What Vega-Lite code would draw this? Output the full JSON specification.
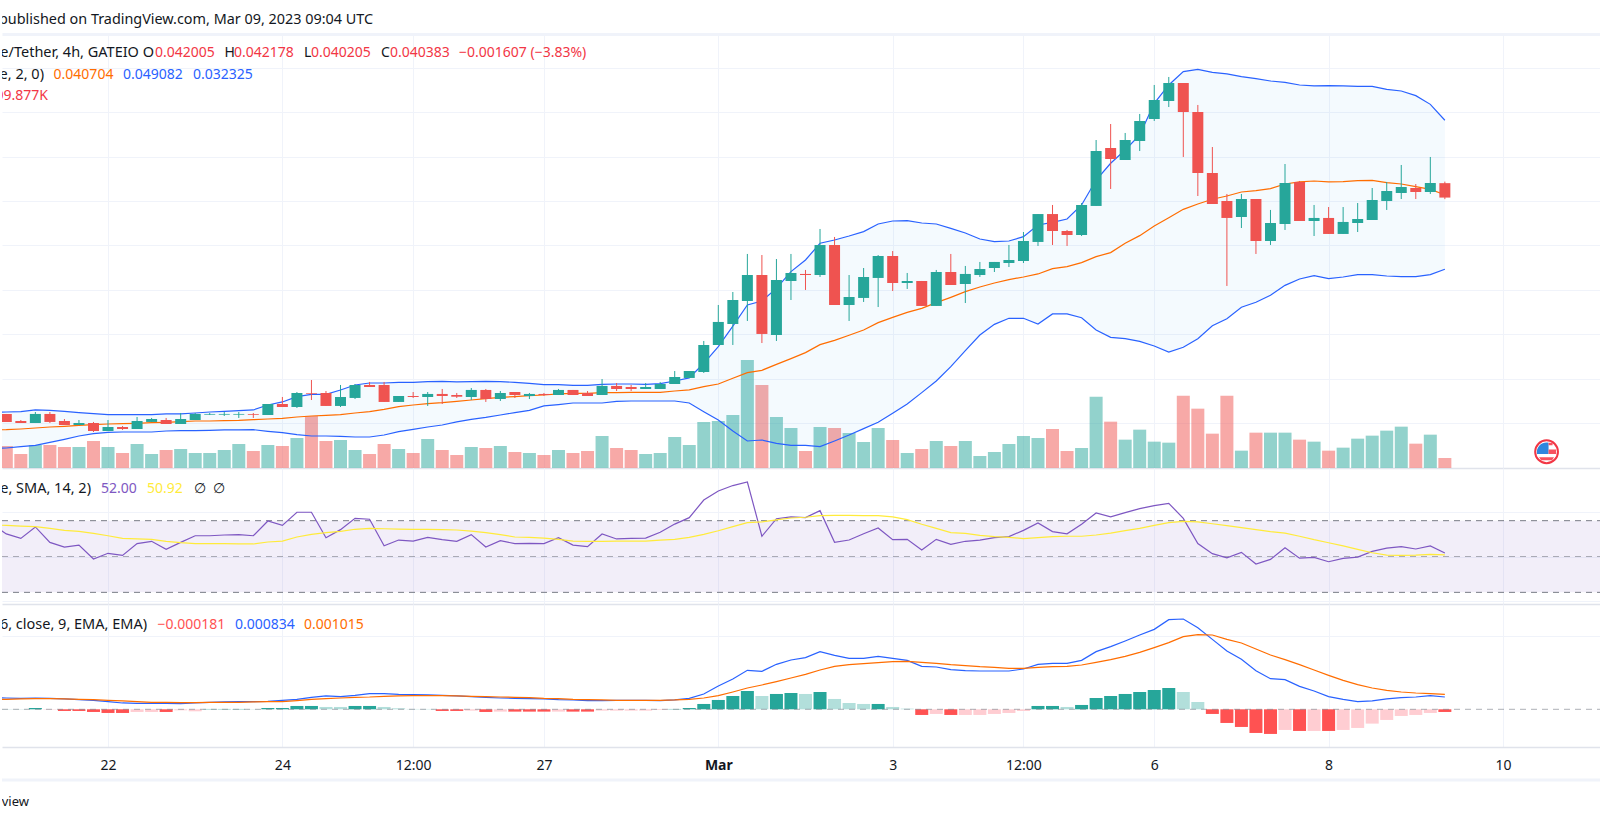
{
  "$schema": "https://vega.github.io/schema/vega-lite/v6.json",
  "description": "4h candles with Bollinger bands and volume, RSI and MACD panes, as published on TradingView",
  "padding": 0,
  "background": "white",
  "spacing": 0,
  "bounds": "flush",
  "config": {
    "view": {"stroke": null},
    "scale": {"continuousPadding": 0},
    "axis": {"title": null, "labels": false, "ticks": false, "domain": false, "gridColor": "#f0f3fa", "gridWidth": 1, "domainColor": "#e0e3eb", "domainWidth": 1.5},
    "text": {"font": "Noto Sans", "fontSize": 14, "baseline": "middle", "align": "left", "color": "#131722"}
  },
  "data": {"values": [
    {"t":"2023-02-20T16:00:00Z","open":0.0160,"high":0.0162,"low":0.0158,"close":0.0161,"vol":400,"bb_up":0.01620,"bb_mid":0.01424,"bb_low":0.01214,"rsi":68.0,"rsi_ma":67.6,"macd":0.000791,"signal":0.000678,"hist":0.000023,"hist_state":"up_fall"},
    {"t":"2023-02-20T20:00:00Z","open":0.01604,"high":0.01604,"low":0.01514,"close":0.01514,"vol":462,"bb_up":0.01626,"bb_mid":0.01427,"bb_low":0.01221,"rsi":62.6,"rsi_ma":67.4,"macd":0.000768,"signal":0.000678,"hist":0.000023,"hist_state":"up_fall"},
    {"t":"2023-02-21T00:00:00Z","open":0.01525,"high":0.01536,"low":0.01502,"close":0.01502,"vol":294,"bb_up":0.01630,"bb_mid":0.01435,"bb_low":0.01236,"rsi":60.1,"rsi_ma":67.0,"macd":0.000746,"signal":0.000701,"hist":0.000023,"hist_state":"up_fall"},
    {"t":"2023-02-21T04:00:00Z","open":0.01502,"high":0.01626,"low":0.01502,"close":0.01604,"vol":483,"bb_up":0.01649,"bb_mid":0.01446,"bb_low":0.01251,"rsi":66.5,"rsi_ma":66.7,"macd":0.000768,"signal":0.000723,"hist":0.000090,"hist_state":"up_rise"},
    {"t":"2023-02-21T08:00:00Z","open":0.01604,"high":0.01626,"low":0.01502,"close":0.01514,"vol":483,"bb_up":0.01645,"bb_mid":0.01457,"bb_low":0.01285,"rsi":57.9,"rsi_ma":65.7,"macd":0.000746,"signal":0.000723,"hist":-0.000023,"hist_state":"down_rise"},
    {"t":"2023-02-21T12:00:00Z","open":0.01525,"high":0.01547,"low":0.01480,"close":0.01480,"vol":441,"bb_up":0.01634,"bb_mid":0.01465,"bb_low":0.01319,"rsi":55.3,"rsi_ma":64.6,"macd":0.000701,"signal":0.000701,"hist":-0.000113,"hist_state":"down_fall"},
    {"t":"2023-02-21T16:00:00Z","open":0.01480,"high":0.01536,"low":0.01480,"close":0.01502,"vol":441,"bb_up":0.01619,"bb_mid":0.01476,"bb_low":0.01356,"rsi":56.4,"rsi_ma":64.0,"macd":0.000655,"signal":0.000678,"hist":-0.000113,"hist_state":"down_fall"},
    {"t":"2023-02-21T20:00:00Z","open":0.01502,"high":0.01514,"low":0.01401,"close":0.01412,"vol":567,"bb_up":0.01607,"bb_mid":0.01484,"bb_low":0.01382,"rsi":48.6,"rsi_ma":62.9,"macd":0.000610,"signal":0.000655,"hist":-0.000181,"hist_state":"down_fall"},
    {"t":"2023-02-22T00:00:00Z","open":0.01412,"high":0.01536,"low":0.01412,"close":0.01457,"vol":441,"bb_up":0.01596,"bb_mid":0.01491,"bb_low":0.01397,"rsi":51.8,"rsi_ma":61.6,"macd":0.000520,"signal":0.000610,"hist":-0.000249,"hist_state":"down_fall"},
    {"t":"2023-02-22T04:00:00Z","open":0.01457,"high":0.01469,"low":0.01424,"close":0.01435,"vol":315,"bb_up":0.01596,"bb_mid":0.01495,"bb_low":0.01401,"rsi":50.6,"rsi_ma":60.1,"macd":0.000429,"signal":0.000565,"hist":-0.000249,"hist_state":"down_fall"},
    {"t":"2023-02-22T08:00:00Z","open":0.01435,"high":0.01570,"low":0.01435,"close":0.01525,"vol":504,"bb_up":0.01596,"bb_mid":0.01499,"bb_low":0.01401,"rsi":57.2,"rsi_ma":59.8,"macd":0.000407,"signal":0.000520,"hist":-0.000181,"hist_state":"down_rise"},
    {"t":"2023-02-22T12:00:00Z","open":0.01514,"high":0.01559,"low":0.01514,"close":0.01547,"vol":294,"bb_up":0.01596,"bb_mid":0.01506,"bb_low":0.01401,"rsi":58.5,"rsi_ma":59.6,"macd":0.000407,"signal":0.000475,"hist":-0.000181,"hist_state":"down_rise"},
    {"t":"2023-02-22T16:00:00Z","open":0.01536,"high":0.01559,"low":0.01491,"close":0.01491,"vol":378,"bb_up":0.01604,"bb_mid":0.01510,"bb_low":0.01412,"rsi":54.0,"rsi_ma":58.5,"macd":0.000407,"signal":0.000475,"hist":-0.000181,"hist_state":"down_fall"},
    {"t":"2023-02-22T20:00:00Z","open":0.01491,"high":0.01615,"low":0.01491,"close":0.01547,"vol":399,"bb_up":0.01604,"bb_mid":0.01517,"bb_low":0.01416,"rsi":57.9,"rsi_ma":57.7,"macd":0.000384,"signal":0.000452,"hist":-0.000068,"hist_state":"down_rise"},
    {"t":"2023-02-23T00:00:00Z","open":0.01536,"high":0.01615,"low":0.01536,"close":0.01604,"vol":315,"bb_up":0.01615,"bb_mid":0.01525,"bb_low":0.01416,"rsi":61.6,"rsi_ma":57.2,"macd":0.000429,"signal":0.000452,"hist":-0.000136,"hist_state":"down_rise"},
    {"t":"2023-02-23T04:00:00Z","open":0.01596,"high":0.01615,"low":0.01592,"close":0.01604,"vol":315,"bb_up":0.01626,"bb_mid":0.01525,"bb_low":0.01420,"rsi":61.6,"rsi_ma":57.2,"macd":0.000475,"signal":0.000475,"hist":0.000023,"hist_state":"up_rise"},
    {"t":"2023-02-23T08:00:00Z","open":0.01596,"high":0.01626,"low":0.01581,"close":0.01604,"vol":378,"bb_up":0.01634,"bb_mid":0.01529,"bb_low":0.01424,"rsi":62.0,"rsi_ma":57.2,"macd":0.000497,"signal":0.000475,"hist":0.000023,"hist_state":"up_rise"},
    {"t":"2023-02-23T12:00:00Z","open":0.01596,"high":0.01626,"low":0.01559,"close":0.01604,"vol":504,"bb_up":0.01641,"bb_mid":0.01532,"bb_low":0.01424,"rsi":62.2,"rsi_ma":57.0,"macd":0.000520,"signal":0.000475,"hist":0.000023,"hist_state":"up_rise"},
    {"t":"2023-02-23T16:00:00Z","open":0.01604,"high":0.01615,"low":0.01559,"close":0.01596,"vol":357,"bb_up":0.01649,"bb_mid":0.01540,"bb_low":0.01427,"rsi":61.6,"rsi_ma":57.0,"macd":0.000520,"signal":0.000497,"hist":0.000023,"hist_state":"up_fall"},
    {"t":"2023-02-23T20:00:00Z","open":0.01592,"high":0.01716,"low":0.01592,"close":0.01716,"vol":483,"bb_up":0.01705,"bb_mid":0.01547,"bb_low":0.01409,"rsi":69.8,"rsi_ma":58.1,"macd":0.000542,"signal":0.000520,"hist":0.000090,"hist_state":"up_rise"},
    {"t":"2023-02-24T00:00:00Z","open":0.01716,"high":0.01795,"low":0.01682,"close":0.01682,"vol":462,"bb_up":0.01739,"bb_mid":0.01555,"bb_low":0.01394,"rsi":67.4,"rsi_ma":58.6,"macd":0.000610,"signal":0.000520,"hist":0.000090,"hist_state":"up_rise"},
    {"t":"2023-02-24T04:00:00Z","open":0.01682,"high":0.01851,"low":0.01671,"close":0.01840,"vol":630,"bb_up":0.01799,"bb_mid":0.01570,"bb_low":0.01371,"rsi":74.7,"rsi_ma":60.9,"macd":0.000678,"signal":0.000588,"hist":0.000226,"hist_state":"up_rise"},
    {"t":"2023-02-24T08:00:00Z","open":0.01840,"high":0.01986,"low":0.01761,"close":0.01832,"vol":1092,"bb_up":0.01825,"bb_mid":0.01581,"bb_low":0.01356,"rsi":74.7,"rsi_ma":62.4,"macd":0.000814,"signal":0.000678,"hist":0.000226,"hist_state":"up_rise"},
    {"t":"2023-02-24T12:00:00Z","open":0.01840,"high":0.01862,"low":0.01694,"close":0.01694,"vol":567,"bb_up":0.01825,"bb_mid":0.01589,"bb_low":0.01356,"rsi":60.5,"rsi_ma":63.3,"macd":0.000904,"signal":0.000723,"hist":0.000158,"hist_state":"up_fall"},
    {"t":"2023-02-24T16:00:00Z","open":0.01694,"high":0.01930,"low":0.01682,"close":0.01795,"vol":588,"bb_up":0.01874,"bb_mid":0.01596,"bb_low":0.01352,"rsi":65.0,"rsi_ma":64.0,"macd":0.000859,"signal":0.000768,"hist":0.000158,"hist_state":"up_fall"},
    {"t":"2023-02-24T20:00:00Z","open":0.01784,"high":0.01941,"low":0.01772,"close":0.01930,"vol":378,"bb_up":0.01930,"bb_mid":0.01615,"bb_low":0.01345,"rsi":71.3,"rsi_ma":65.2,"macd":0.000949,"signal":0.000814,"hist":0.000226,"hist_state":"up_rise"},
    {"t":"2023-02-25T00:00:00Z","open":0.01930,"high":0.01964,"low":0.01907,"close":0.01907,"vol":294,"bb_up":0.01952,"bb_mid":0.01630,"bb_low":0.01345,"rsi":70.8,"rsi_ma":65.7,"macd":0.001062,"signal":0.000836,"hist":0.000226,"hist_state":"up_rise"},
    {"t":"2023-02-25T04:00:00Z","open":0.01930,"high":0.01964,"low":0.01739,"close":0.01739,"vol":504,"bb_up":0.01952,"bb_mid":0.01656,"bb_low":0.01367,"rsi":56.0,"rsi_ma":65.5,"macd":0.001062,"signal":0.000881,"hist":0.000158,"hist_state":"up_fall"},
    {"t":"2023-02-25T08:00:00Z","open":0.01739,"high":0.01806,"low":0.01739,"close":0.01806,"vol":399,"bb_up":0.01960,"bb_mid":0.01686,"bb_low":0.01405,"rsi":59.2,"rsi_ma":65.3,"macd":0.001017,"signal":0.000904,"hist":0.000068,"hist_state":"up_fall"},
    {"t":"2023-02-25T12:00:00Z","open":0.01806,"high":0.01851,"low":0.01784,"close":0.01795,"vol":315,"bb_up":0.01960,"bb_mid":0.01705,"bb_low":0.01431,"rsi":58.6,"rsi_ma":65.2,"macd":0.000994,"signal":0.000927,"hist":0.000023,"hist_state":"up_fall"},
    {"t":"2023-02-25T16:00:00Z","open":0.01795,"high":0.01851,"low":0.01694,"close":0.01829,"vol":609,"bb_up":0.01967,"bb_mid":0.01720,"bb_low":0.01457,"rsi":60.7,"rsi_ma":65.2,"macd":0.000972,"signal":0.000927,"hist":0.000023,"hist_state":"up_fall"},
    {"t":"2023-02-25T20:00:00Z","open":0.01829,"high":0.01885,"low":0.01716,"close":0.01806,"vol":378,"bb_up":0.01971,"bb_mid":0.01731,"bb_low":0.01480,"rsi":59.4,"rsi_ma":65.0,"macd":0.000949,"signal":0.000927,"hist":-0.000113,"hist_state":"down_fall"},
    {"t":"2023-02-26T00:00:00Z","open":0.01817,"high":0.01840,"low":0.01784,"close":0.01798,"vol":273,"bb_up":0.01964,"bb_mid":0.01746,"bb_low":0.01514,"rsi":58.5,"rsi_ma":64.8,"macd":0.000904,"signal":0.000904,"hist":-0.000113,"hist_state":"down_fall"},
    {"t":"2023-02-26T04:00:00Z","open":0.01795,"high":0.01896,"low":0.01761,"close":0.01874,"vol":441,"bb_up":0.01967,"bb_mid":0.01761,"bb_low":0.01544,"rsi":62.2,"rsi_ma":64.2,"macd":0.000859,"signal":0.000881,"hist":-0.000090,"hist_state":"down_rise"},
    {"t":"2023-02-26T08:00:00Z","open":0.01874,"high":0.01885,"low":0.01739,"close":0.01772,"vol":420,"bb_up":0.01971,"bb_mid":0.01776,"bb_low":0.01566,"rsi":55.3,"rsi_ma":63.3,"macd":0.000814,"signal":0.000859,"hist":-0.000181,"hist_state":"down_fall"},
    {"t":"2023-02-26T12:00:00Z","open":0.01772,"high":0.01862,"low":0.01750,"close":0.01840,"vol":462,"bb_up":0.01967,"bb_mid":0.01791,"bb_low":0.01592,"rsi":58.8,"rsi_ma":62.2,"macd":0.000768,"signal":0.000836,"hist":-0.000158,"hist_state":"down_rise"},
    {"t":"2023-02-26T16:00:00Z","open":0.01851,"high":0.01851,"low":0.01784,"close":0.01817,"vol":336,"bb_up":0.01960,"bb_mid":0.01799,"bb_low":0.01619,"rsi":57.2,"rsi_ma":60.9,"macd":0.000746,"signal":0.000814,"hist":-0.000158,"hist_state":"down_fall"},
    {"t":"2023-02-26T20:00:00Z","open":0.01806,"high":0.01840,"low":0.01772,"close":0.01829,"vol":315,"bb_up":0.01949,"bb_mid":0.01810,"bb_low":0.01645,"rsi":57.3,"rsi_ma":60.7,"macd":0.000723,"signal":0.000791,"hist":-0.000158,"hist_state":"down_fall"},
    {"t":"2023-02-27T00:00:00Z","open":0.01829,"high":0.01840,"low":0.01806,"close":0.01817,"vol":273,"bb_up":0.01934,"bb_mid":0.01817,"bb_low":0.01694,"rsi":57.2,"rsi_ma":60.3,"macd":0.000701,"signal":0.000746,"hist":-0.000158,"hist_state":"down_fall"},
    {"t":"2023-02-27T04:00:00Z","open":0.01817,"high":0.01885,"low":0.01817,"close":0.01874,"vol":378,"bb_up":0.01934,"bb_mid":0.01829,"bb_low":0.01709,"rsi":60.5,"rsi_ma":59.6,"macd":0.000655,"signal":0.000723,"hist":-0.000158,"hist_state":"down_rise"},
    {"t":"2023-02-27T08:00:00Z","open":0.01874,"high":0.01874,"low":0.01817,"close":0.01817,"vol":315,"bb_up":0.01926,"bb_mid":0.01836,"bb_low":0.01727,"rsi":56.4,"rsi_ma":58.6,"macd":0.000633,"signal":0.000678,"hist":-0.000158,"hist_state":"down_fall"},
    {"t":"2023-02-27T12:00:00Z","open":0.01840,"high":0.01862,"low":0.01806,"close":0.01806,"vol":357,"bb_up":0.01926,"bb_mid":0.01836,"bb_low":0.01727,"rsi":55.5,"rsi_ma":58.5,"macd":0.000588,"signal":0.000655,"hist":-0.000158,"hist_state":"down_fall"},
    {"t":"2023-02-27T16:00:00Z","open":0.01817,"high":0.01997,"low":0.01817,"close":0.01919,"vol":672,"bb_up":0.01937,"bb_mid":0.01844,"bb_low":0.01727,"rsi":62.6,"rsi_ma":58.5,"macd":0.000588,"signal":0.000633,"hist":-0.000090,"hist_state":"down_rise"},
    {"t":"2023-02-27T20:00:00Z","open":0.01919,"high":0.01952,"low":0.01862,"close":0.01885,"vol":420,"bb_up":0.01941,"bb_mid":0.01844,"bb_low":0.01746,"rsi":59.8,"rsi_ma":58.6,"macd":0.000610,"signal":0.000610,"hist":-0.000090,"hist_state":"down_rise"},
    {"t":"2023-02-28T00:00:00Z","open":0.01907,"high":0.01930,"low":0.01862,"close":0.01885,"vol":378,"bb_up":0.01941,"bb_mid":0.01847,"bb_low":0.01750,"rsi":60.1,"rsi_ma":58.6,"macd":0.000610,"signal":0.000610,"hist":-0.000090,"hist_state":"down_rise"},
    {"t":"2023-02-28T04:00:00Z","open":0.01885,"high":0.01952,"low":0.01885,"close":0.01907,"vol":294,"bb_up":0.01937,"bb_mid":0.01847,"bb_low":0.01750,"rsi":60.3,"rsi_ma":58.6,"macd":0.000610,"signal":0.000610,"hist":-0.000090,"hist_state":"down_rise"},
    {"t":"2023-02-28T08:00:00Z","open":0.01885,"high":0.01964,"low":0.01885,"close":0.01941,"vol":315,"bb_up":0.01945,"bb_mid":0.01847,"bb_low":0.01750,"rsi":63.5,"rsi_ma":59.2,"macd":0.000588,"signal":0.000610,"hist":-0.000045,"hist_state":"down_rise"},
    {"t":"2023-02-28T12:00:00Z","open":0.01941,"high":0.02087,"low":0.01941,"close":0.02020,"vol":651,"bb_up":0.01975,"bb_mid":0.01862,"bb_low":0.01750,"rsi":68.1,"rsi_ma":59.6,"macd":0.000633,"signal":0.000633,"hist":0.000023,"hist_state":"up_rise"},
    {"t":"2023-02-28T16:00:00Z","open":0.02009,"high":0.02087,"low":0.02009,"close":0.02087,"vol":483,"bb_up":0.02009,"bb_mid":0.01874,"bb_low":0.01727,"rsi":71.7,"rsi_ma":60.7,"macd":0.000746,"signal":0.000678,"hist":0.000090,"hist_state":"up_rise"},
    {"t":"2023-02-28T20:00:00Z","open":0.02076,"high":0.02425,"low":0.02065,"close":0.02380,"vol":966,"bb_up":0.02174,"bb_mid":0.01911,"bb_low":0.01630,"rsi":81.5,"rsi_ma":62.4,"macd":0.001040,"signal":0.000768,"hist":0.000362,"hist_state":"up_rise"},
    {"t":"2023-03-01T00:00:00Z","open":0.02380,"high":0.02830,"low":0.02380,"close":0.02639,"vol":987,"bb_up":0.02361,"bb_mid":0.01941,"bb_low":0.01536,"rsi":86.6,"rsi_ma":64.4,"macd":0.001582,"signal":0.000927,"hist":0.000633,"hist_state":"up_rise"},
    {"t":"2023-03-01T04:00:00Z","open":0.02616,"high":0.02976,"low":0.02380,"close":0.02886,"vol":1113,"bb_up":0.02593,"bb_mid":0.02005,"bb_low":0.01412,"rsi":89.6,"rsi_ma":66.7,"macd":0.002057,"signal":0.001175,"hist":0.000904,"hist_state":"up_rise"},
    {"t":"2023-03-01T08:00:00Z","open":0.02875,"high":0.03404,"low":0.02650,"close":0.03167,"vol":2268,"bb_up":0.02830,"bb_mid":0.02069,"bb_low":0.01300,"rsi":91.6,"rsi_ma":68.9,"macd":0.002644,"signal":0.001446,"hist":0.001243,"hist_state":"up_rise"},
    {"t":"2023-03-01T12:00:00Z","open":0.03167,"high":0.03392,"low":0.02402,"close":0.02504,"vol":1743,"bb_up":0.02875,"bb_mid":0.02095,"bb_low":0.01311,"rsi":61.3,"rsi_ma":69.3,"macd":0.002576,"signal":0.001650,"hist":0.000904,"hist_state":"up_fall"},
    {"t":"2023-03-01T16:00:00Z","open":0.02492,"high":0.03347,"low":0.02425,"close":0.03111,"vol":1071,"bb_up":0.03017,"bb_mid":0.02162,"bb_low":0.01274,"rsi":71.1,"rsi_ma":70.4,"macd":0.003051,"signal":0.001876,"hist":0.001040,"hist_state":"up_rise"},
    {"t":"2023-03-01T20:00:00Z","open":0.03100,"high":0.03404,"low":0.02886,"close":0.03190,"vol":840,"bb_up":0.03205,"bb_mid":0.02226,"bb_low":0.01251,"rsi":72.1,"rsi_ma":71.5,"macd":0.003345,"signal":0.002124,"hist":0.001107,"hist_state":"up_rise"},
    {"t":"2023-03-02T00:00:00Z","open":0.03179,"high":0.03224,"low":0.02999,"close":0.03167,"vol":357,"bb_up":0.03336,"bb_mid":0.02294,"bb_low":0.01251,"rsi":71.7,"rsi_ma":71.9,"macd":0.003503,"signal":0.002373,"hist":0.001040,"hist_state":"up_fall"},
    {"t":"2023-03-02T04:00:00Z","open":0.03167,"high":0.03685,"low":0.03145,"close":0.03505,"vol":861,"bb_up":0.03524,"bb_mid":0.02384,"bb_low":0.01236,"rsi":75.6,"rsi_ma":72.8,"macd":0.003910,"signal":0.002667,"hist":0.001175,"hist_state":"up_rise"},
    {"t":"2023-03-02T08:00:00Z","open":0.03505,"high":0.03595,"low":0.02830,"close":0.02830,"vol":840,"bb_up":0.03561,"bb_mid":0.02432,"bb_low":0.01300,"rsi":57.9,"rsi_ma":73.0,"macd":0.003661,"signal":0.002915,"hist":0.000701,"hist_state":"up_fall"},
    {"t":"2023-03-02T12:00:00Z","open":0.02830,"high":0.03167,"low":0.02650,"close":0.02920,"vol":735,"bb_up":0.03606,"bb_mid":0.02489,"bb_low":0.01367,"rsi":59.2,"rsi_ma":73.0,"macd":0.003458,"signal":0.003028,"hist":0.000429,"hist_state":"up_fall"},
    {"t":"2023-03-02T16:00:00Z","open":0.02909,"high":0.03246,"low":0.02864,"close":0.03145,"vol":546,"bb_up":0.03655,"bb_mid":0.02549,"bb_low":0.01439,"rsi":62.7,"rsi_ma":72.8,"macd":0.003458,"signal":0.003096,"hist":0.000362,"hist_state":"up_fall"},
    {"t":"2023-03-02T20:00:00Z","open":0.03134,"high":0.03392,"low":0.02807,"close":0.03381,"vol":840,"bb_up":0.03741,"bb_mid":0.02631,"bb_low":0.01510,"rsi":65.9,"rsi_ma":72.8,"macd":0.003593,"signal":0.003164,"hist":0.000362,"hist_state":"up_rise"},
    {"t":"2023-03-03T00:00:00Z","open":0.03381,"high":0.03437,"low":0.02987,"close":0.03077,"vol":588,"bb_up":0.03775,"bb_mid":0.02691,"bb_low":0.01611,"rsi":59.4,"rsi_ma":72.1,"macd":0.003458,"signal":0.003232,"hist":0.000158,"hist_state":"up_fall"},
    {"t":"2023-03-03T04:00:00Z","open":0.03077,"high":0.03190,"low":0.03010,"close":0.03100,"vol":315,"bb_up":0.03779,"bb_mid":0.02747,"bb_low":0.01716,"rsi":59.6,"rsi_ma":70.6,"macd":0.003322,"signal":0.003254,"hist":0.000045,"hist_state":"up_fall"},
    {"t":"2023-03-03T08:00:00Z","open":0.03100,"high":0.03100,"low":0.02819,"close":0.02819,"vol":399,"bb_up":0.03752,"bb_mid":0.02792,"bb_low":0.01844,"rsi":53.6,"rsi_ma":68.0,"macd":0.002915,"signal":0.003187,"hist":-0.000384,"hist_state":"down_fall"},
    {"t":"2023-03-03T12:00:00Z","open":0.02819,"high":0.03224,"low":0.02819,"close":0.03201,"vol":567,"bb_up":0.03741,"bb_mid":0.02856,"bb_low":0.01975,"rsi":59.6,"rsi_ma":65.7,"macd":0.002870,"signal":0.003119,"hist":-0.000316,"hist_state":"down_rise"},
    {"t":"2023-03-03T16:00:00Z","open":0.03201,"high":0.03404,"low":0.03055,"close":0.03055,"vol":462,"bb_up":0.03692,"bb_mid":0.02916,"bb_low":0.02136,"rsi":56.8,"rsi_ma":63.3,"macd":0.002689,"signal":0.003028,"hist":-0.000384,"hist_state":"down_fall"},
    {"t":"2023-03-03T20:00:00Z","open":0.03066,"high":0.03269,"low":0.02852,"close":0.03179,"vol":567,"bb_up":0.03640,"bb_mid":0.02980,"bb_low":0.02316,"rsi":58.5,"rsi_ma":62.9,"macd":0.002622,"signal":0.002961,"hist":-0.000384,"hist_state":"down_rise"},
    {"t":"2023-03-04T00:00:00Z","open":0.03167,"high":0.03314,"low":0.03145,"close":0.03235,"vol":252,"bb_up":0.03572,"bb_mid":0.03032,"bb_low":0.02492,"rsi":59.2,"rsi_ma":61.8,"macd":0.002599,"signal":0.002893,"hist":-0.000384,"hist_state":"down_rise"},
    {"t":"2023-03-04T04:00:00Z","open":0.03246,"high":0.03314,"low":0.03201,"close":0.03314,"vol":336,"bb_up":0.03542,"bb_mid":0.03077,"bb_low":0.02612,"rsi":60.5,"rsi_ma":61.1,"macd":0.002599,"signal":0.002848,"hist":-0.000316,"hist_state":"down_rise"},
    {"t":"2023-03-04T08:00:00Z","open":0.03302,"high":0.03505,"low":0.03257,"close":0.03336,"vol":504,"bb_up":0.03550,"bb_mid":0.03115,"bb_low":0.02680,"rsi":61.1,"rsi_ma":60.7,"macd":0.002599,"signal":0.002780,"hist":-0.000249,"hist_state":"down_rise"},
    {"t":"2023-03-04T12:00:00Z","open":0.03325,"high":0.03651,"low":0.03302,"close":0.03550,"vol":672,"bb_up":0.03599,"bb_mid":0.03145,"bb_low":0.02680,"rsi":64.6,"rsi_ma":60.0,"macd":0.002735,"signal":0.002780,"hist":-0.000113,"hist_state":"down_rise"},
    {"t":"2023-03-04T16:00:00Z","open":0.03539,"high":0.03853,"low":0.03494,"close":0.03853,"vol":630,"bb_up":0.03730,"bb_mid":0.03179,"bb_low":0.02616,"rsi":68.7,"rsi_ma":60.5,"macd":0.003051,"signal":0.002848,"hist":0.000226,"hist_state":"up_rise"},
    {"t":"2023-03-04T20:00:00Z","open":0.03853,"high":0.03955,"low":0.03505,"close":0.03662,"vol":819,"bb_up":0.03760,"bb_mid":0.03239,"bb_low":0.02729,"rsi":63.9,"rsi_ma":61.1,"macd":0.003119,"signal":0.002893,"hist":0.000226,"hist_state":"up_rise"},
    {"t":"2023-03-05T00:00:00Z","open":0.03662,"high":0.03674,"low":0.03494,"close":0.03617,"vol":357,"bb_up":0.03797,"bb_mid":0.03261,"bb_low":0.02729,"rsi":62.7,"rsi_ma":61.3,"macd":0.003119,"signal":0.002915,"hist":0.000158,"hist_state":"up_fall"},
    {"t":"2023-03-05T04:00:00Z","open":0.03617,"high":0.03977,"low":0.03606,"close":0.03955,"vol":420,"bb_up":0.03955,"bb_mid":0.03306,"bb_low":0.02687,"rsi":68.0,"rsi_ma":61.3,"macd":0.003322,"signal":0.003006,"hist":0.000294,"hist_state":"up_rise"},
    {"t":"2023-03-05T08:00:00Z","open":0.03944,"high":0.04686,"low":0.03944,"close":0.04562,"vol":1498,"bb_up":0.04236,"bb_mid":0.03374,"bb_low":0.02549,"rsi":74.3,"rsi_ma":62.0,"macd":0.003910,"signal":0.003187,"hist":0.000768,"hist_state":"up_rise"},
    {"t":"2023-03-05T12:00:00Z","open":0.04596,"high":0.04866,"low":0.04135,"close":0.04472,"vol":973,"bb_up":0.04424,"bb_mid":0.03419,"bb_low":0.02466,"rsi":72.1,"rsi_ma":63.1,"macd":0.004249,"signal":0.003367,"hist":0.000904,"hist_state":"up_rise"},
    {"t":"2023-03-05T16:00:00Z","open":0.04461,"high":0.04765,"low":0.04461,"close":0.04686,"vol":595,"bb_up":0.04574,"bb_mid":0.03524,"bb_low":0.02451,"rsi":74.5,"rsi_ma":64.4,"macd":0.004633,"signal":0.003593,"hist":0.001040,"hist_state":"up_rise"},
    {"t":"2023-03-05T20:00:00Z","open":0.04675,"high":0.04979,"low":0.04562,"close":0.04900,"vol":805,"bb_up":0.04742,"bb_mid":0.03610,"bb_low":0.02421,"rsi":76.7,"rsi_ma":65.7,"macd":0.005040,"signal":0.003865,"hist":0.001175,"hist_state":"up_rise"},
    {"t":"2023-03-06T00:00:00Z","open":0.04922,"high":0.05305,"low":0.04900,"close":0.05136,"vol":553,"bb_up":0.05099,"bb_mid":0.03719,"bb_low":0.02369,"rsi":78.4,"rsi_ma":67.4,"macd":0.005424,"signal":0.004181,"hist":0.001311,"hist_state":"up_rise"},
    {"t":"2023-03-06T04:00:00Z","open":0.05125,"high":0.05395,"low":0.05057,"close":0.05327,"vol":532,"bb_up":0.05305,"bb_mid":0.03812,"bb_low":0.02301,"rsi":79.7,"rsi_ma":68.9,"macd":0.006079,"signal":0.004520,"hist":0.001446,"hist_state":"up_rise"},
    {"t":"2023-03-06T08:00:00Z","open":0.05327,"high":0.05327,"low":0.04495,"close":0.05001,"vol":1519,"bb_up":0.05455,"bb_mid":0.03906,"bb_low":0.02354,"rsi":71.3,"rsi_ma":69.6,"macd":0.006125,"signal":0.004927,"hist":0.001175,"hist_state":"up_fall"},
    {"t":"2023-03-06T12:00:00Z","open":0.05001,"high":0.05080,"low":0.04056,"close":0.04315,"vol":1246,"bb_up":0.05481,"bb_mid":0.03966,"bb_low":0.02451,"rsi":57.2,"rsi_ma":69.3,"macd":0.005537,"signal":0.005062,"hist":0.000497,"hist_state":"up_fall"},
    {"t":"2023-03-06T16:00:00Z","open":0.04315,"high":0.04607,"low":0.03966,"close":0.03966,"vol":721,"bb_up":0.05447,"bb_mid":0.04019,"bb_low":0.02597,"rsi":51.6,"rsi_ma":68.3,"macd":0.004746,"signal":0.005040,"hist":-0.000316,"hist_state":"down_fall"},
    {"t":"2023-03-06T20:00:00Z","open":0.04000,"high":0.04079,"low":0.03044,"close":0.03809,"vol":1519,"bb_up":0.05429,"bb_mid":0.04056,"bb_low":0.02676,"rsi":49.3,"rsi_ma":67.2,"macd":0.003955,"signal":0.004746,"hist":-0.000927,"hist_state":"down_fall"},
    {"t":"2023-03-07T00:00:00Z","open":0.03820,"high":0.04079,"low":0.03696,"close":0.04022,"vol":364,"bb_up":0.05399,"bb_mid":0.04101,"bb_low":0.02804,"rsi":52.3,"rsi_ma":66.1,"macd":0.003390,"signal":0.004497,"hist":-0.001198,"hist_state":"down_fall"},
    {"t":"2023-03-07T04:00:00Z","open":0.04022,"high":0.04022,"low":0.03404,"close":0.03550,"vol":742,"bb_up":0.05376,"bb_mid":0.04116,"bb_low":0.02860,"rsi":45.8,"rsi_ma":65.0,"macd":0.002622,"signal":0.004091,"hist":-0.001605,"hist_state":"down_fall"},
    {"t":"2023-03-07T08:00:00Z","open":0.03550,"high":0.03899,"low":0.03505,"close":0.03752,"vol":742,"bb_up":0.05350,"bb_mid":0.04139,"bb_low":0.02939,"rsi":48.4,"rsi_ma":63.9,"macd":0.002079,"signal":0.003684,"hist":-0.001672,"hist_state":"down_fall"},
    {"t":"2023-03-07T12:00:00Z","open":0.03741,"high":0.04416,"low":0.03674,"close":0.04202,"vol":742,"bb_up":0.05335,"bb_mid":0.04191,"bb_low":0.03051,"rsi":54.9,"rsi_ma":63.1,"macd":0.002011,"signal":0.003367,"hist":-0.001401,"hist_state":"down_rise"},
    {"t":"2023-03-07T16:00:00Z","open":0.04214,"high":0.04225,"low":0.03775,"close":0.03775,"vol":595,"bb_up":0.05305,"bb_mid":0.04214,"bb_low":0.03122,"rsi":49.1,"rsi_ma":61.3,"macd":0.001559,"signal":0.003028,"hist":-0.001469,"hist_state":"down_fall"},
    {"t":"2023-03-07T20:00:00Z","open":0.03775,"high":0.03955,"low":0.03606,"close":0.03809,"vol":553,"bb_up":0.05294,"bb_mid":0.04225,"bb_low":0.03160,"rsi":49.5,"rsi_ma":59.4,"macd":0.001243,"signal":0.002667,"hist":-0.001469,"hist_state":"down_rise"},
    {"t":"2023-03-08T00:00:00Z","open":0.03809,"high":0.03932,"low":0.03629,"close":0.03629,"vol":364,"bb_up":0.05297,"bb_mid":0.04214,"bb_low":0.03126,"rsi":47.1,"rsi_ma":57.7,"macd":0.000859,"signal":0.002305,"hist":-0.001469,"hist_state":"down_fall"},
    {"t":"2023-03-08T04:00:00Z","open":0.03629,"high":0.03932,"low":0.03629,"close":0.03764,"vol":427,"bb_up":0.05294,"bb_mid":0.04217,"bb_low":0.03145,"rsi":49.0,"rsi_ma":55.9,"macd":0.000678,"signal":0.001966,"hist":-0.001401,"hist_state":"down_rise"},
    {"t":"2023-03-08T08:00:00Z","open":0.03752,"high":0.03977,"low":0.03651,"close":0.03797,"vol":616,"bb_up":0.05290,"bb_mid":0.04229,"bb_low":0.03171,"rsi":49.7,"rsi_ma":54.0,"macd":0.000520,"signal":0.001672,"hist":-0.001266,"hist_state":"down_rise"},
    {"t":"2023-03-08T12:00:00Z","open":0.03786,"high":0.04146,"low":0.03786,"close":0.04011,"vol":679,"bb_up":0.05290,"bb_mid":0.04232,"bb_low":0.03171,"rsi":52.9,"rsi_ma":52.1,"macd":0.000565,"signal":0.001446,"hist":-0.000972,"hist_state":"down_rise"},
    {"t":"2023-03-08T16:00:00Z","open":0.04000,"high":0.04214,"low":0.03899,"close":0.04112,"vol":784,"bb_up":0.05256,"bb_mid":0.04206,"bb_low":0.03156,"rsi":54.7,"rsi_ma":50.8,"macd":0.000701,"signal":0.001288,"hist":-0.000723,"hist_state":"down_rise"},
    {"t":"2023-03-08T20:00:00Z","open":0.04090,"high":0.04405,"low":0.04022,"close":0.04157,"vol":868,"bb_up":0.05237,"bb_mid":0.04191,"bb_low":0.03149,"rsi":55.5,"rsi_ma":50.6,"macd":0.000791,"signal":0.001175,"hist":-0.000452,"hist_state":"down_rise"},
    {"t":"2023-03-09T00:00:00Z","open":0.04146,"high":0.04191,"low":0.04022,"close":0.04101,"vol":511,"bb_up":0.05185,"bb_mid":0.04161,"bb_low":0.03149,"rsi":54.2,"rsi_ma":50.8,"macd":0.000836,"signal":0.001107,"hist":-0.000384,"hist_state":"down_rise"},
    {"t":"2023-03-09T04:00:00Z","open":0.04101,"high":0.04495,"low":0.04079,"close":0.04202,"vol":700,"bb_up":0.05087,"bb_mid":0.04131,"bb_low":0.03171,"rsi":55.9,"rsi_ma":51.2,"macd":0.000927,"signal":0.001062,"hist":-0.000249,"hist_state":"down_rise"},
    {"t":"2023-03-09T08:00:00Z","open":0.042005,"high":0.042178,"low":0.040205,"close":0.040383,"vol":209.877,"bb_up":0.049082,"bb_mid":0.040704,"bb_low":0.032325,"rsi":52.0,"rsi_ma":50.92,"macd":0.000834,"signal":0.001015,"hist":-0.000181,"hist_state":"down_fall"}
  ]},
  "vconcat": [
    {
      "width": 1599,
      "height": 34,
      "data": {"values": [{"s": "published on TradingView.com, Mar 09, 2023 09:04 UTC"}]},
      "mark": {"type": "text", "align": "right", "clip": true, "fontSize": 14.4},
      "encoding": {
        "text": {"field": "s"},
        "x": {"datum": {"year": 2023, "month": 2, "date": 25, "hours": 0, "minutes": 57, "utc": true}, "type": "temporal", "scale": {"type": "utc", "nice": false, "domain": ["2023-02-20T18:49:00Z", "2023-03-11T02:59:00Z"]}, "axis": {"domain": true, "domainColor": "#f0f3fa", "domainWidth": 3, "grid": false}},
        "y": {"datum": 0.41, "type": "quantitative", "scale": {"domain": [0, 1]}, "axis": null}
      }
    },
    {
      "width": 1599,
      "height": 434,
      "resolve": {"scale": {"y": "independent"}},
      "layer": [
        {
          "mark": {"type": "bar", "width": 13, "opacity": 0.5, "orient": "vertical", "clip": true},
          "encoding": {
            "x": {"field": "t", "type": "temporal", "scale": {"type": "utc", "nice": false, "domain": ["2023-02-20T18:49:00Z", "2023-03-11T02:59:00Z"]},
              "axis": {"domain": true, "grid": true, "values": ["2023-02-22T00:00:00Z", "2023-02-24T00:00:00Z", "2023-02-25T12:00:00Z", "2023-02-27T00:00:00Z", "2023-03-01T00:00:00Z", "2023-03-03T00:00:00Z", "2023-03-04T12:00:00Z", "2023-03-06T00:00:00Z", "2023-03-08T00:00:00Z", "2023-03-10T00:00:00Z"]}},
            "y": {"field": "vol", "type": "quantitative", "stack": null, "scale": {"domain": [0, 9114], "nice": false}, "axis": null},
            "color": {"condition": {"test": "datum.close >= datum.open", "value": "#26a69a"}, "value": "#ef5350"}
          }
        },
        {
          "layer": [
            {
              "mark": {"type": "area", "color": "#2196f3", "opacity": 0.05, "clip": true},
              "encoding": {
                "x": {"field": "t", "type": "temporal", "scale": {"type": "utc", "nice": false, "domain": ["2023-02-20T18:49:00Z", "2023-03-11T02:59:00Z"]}},
                "y": {"field": "bb_up", "type": "quantitative", "scale": {"domain": [0.00996, 0.058785], "nice": false, "zero": false},
                  "axis": {"orient": "right", "domain": true, "grid": true, "values": [0.015, 0.02, 0.025, 0.03, 0.035, 0.04, 0.045, 0.05, 0.055]}},
                "y2": {"field": "bb_low"}
              }
            },
            {"mark": {"type": "line", "color": "#2962ff", "strokeWidth": 1.2, "clip": true}, "encoding": {"x": {"field": "t", "type": "temporal", "scale": {"type": "utc", "nice": false, "domain": ["2023-02-20T18:49:00Z", "2023-03-11T02:59:00Z"]}}, "y": {"field": "bb_up", "type": "quantitative"}}},
            {"mark": {"type": "line", "color": "#2962ff", "strokeWidth": 1.2, "clip": true}, "encoding": {"x": {"field": "t", "type": "temporal", "scale": {"type": "utc", "nice": false, "domain": ["2023-02-20T18:49:00Z", "2023-03-11T02:59:00Z"]}}, "y": {"field": "bb_low", "type": "quantitative"}}},
            {"mark": {"type": "line", "color": "#ff6d00", "strokeWidth": 1.2, "clip": true}, "encoding": {"x": {"field": "t", "type": "temporal", "scale": {"type": "utc", "nice": false, "domain": ["2023-02-20T18:49:00Z", "2023-03-11T02:59:00Z"]}}, "y": {"field": "bb_mid", "type": "quantitative"}}},
            {
              "mark": {"type": "rule", "strokeWidth": 1, "clip": true},
              "encoding": {
                "x": {"field": "t", "type": "temporal", "scale": {"type": "utc", "nice": false, "domain": ["2023-02-20T18:49:00Z", "2023-03-11T02:59:00Z"]}},
                "y": {"field": "low", "type": "quantitative"},
                "y2": {"field": "high"},
                "color": {"condition": {"test": "datum.close >= datum.open", "value": "#26a69a"}, "value": "#ef5350"}
              }
            },
            {
              "mark": {"type": "bar", "width": 11, "orient": "vertical", "clip": true},
              "encoding": {
                "x": {"field": "t", "type": "temporal", "scale": {"type": "utc", "nice": false, "domain": ["2023-02-20T18:49:00Z", "2023-03-11T02:59:00Z"]}},
                "y": {"field": "open", "type": "quantitative", "stack": null},
                "y2": {"field": "close"},
                "color": {"condition": {"test": "datum.close >= datum.open", "value": "#26a69a"}, "value": "#ef5350"}
              }
            },
            {"data": {"values": [{"s": "e/Tether, 4h, GATEIO  O"}]}, "mark": {"type": "text", "align": "right", "clip": true, "fontSize": 14.5}, "encoding": {"text": {"field": "s"}, "x": {"datum": {"year": 2023, "month": 2, "date": 22, "hours": 12, "minutes": 40, "utc": true}, "type": "temporal", "scale": {"type": "utc", "nice": false, "domain": ["2023-02-20T18:49:00Z", "2023-03-11T02:59:00Z"]}}, "y": {"datum": 0.05665, "type": "quantitative"}}},
            {"data": {"values": [{"s": "0.042005"}]}, "mark": {"type": "text", "color": "#f23645"}, "encoding": {"text": {"field": "s"}, "x": {"datum": {"year": 2023, "month": 2, "date": 22, "hours": 12, "minutes": 56, "utc": true}, "type": "temporal", "scale": {"type": "utc", "nice": false, "domain": ["2023-02-20T18:49:00Z", "2023-03-11T02:59:00Z"]}}, "y": {"datum": 0.05665, "type": "quantitative"}}},
            {"data": {"values": [{"s": "H"}]}, "mark": {"type": "text"}, "encoding": {"text": {"field": "s"}, "x": {"datum": {"year": 2023, "month": 2, "date": 23, "hours": 8, "minutes": 6, "utc": true}, "type": "temporal", "scale": {"type": "utc", "nice": false, "domain": ["2023-02-20T18:49:00Z", "2023-03-11T02:59:00Z"]}}, "y": {"datum": 0.05665, "type": "quantitative"}}},
            {"data": {"values": [{"s": "0.042178"}]}, "mark": {"type": "text", "color": "#f23645"}, "encoding": {"text": {"field": "s"}, "x": {"datum": {"year": 2023, "month": 2, "date": 23, "hours": 10, "minutes": 41, "utc": true}, "type": "temporal", "scale": {"type": "utc", "nice": false, "domain": ["2023-02-20T18:49:00Z", "2023-03-11T02:59:00Z"]}}, "y": {"datum": 0.05665, "type": "quantitative"}}},
            {"data": {"values": [{"s": "L"}]}, "mark": {"type": "text"}, "encoding": {"text": {"field": "s"}, "x": {"datum": {"year": 2023, "month": 2, "date": 24, "hours": 5, "minutes": 57, "utc": true}, "type": "temporal", "scale": {"type": "utc", "nice": false, "domain": ["2023-02-20T18:49:00Z", "2023-03-11T02:59:00Z"]}}, "y": {"datum": 0.05665, "type": "quantitative"}}},
            {"data": {"values": [{"s": "0.040205"}]}, "mark": {"type": "text", "color": "#f23645"}, "encoding": {"text": {"field": "s"}, "x": {"datum": {"year": 2023, "month": 2, "date": 24, "hours": 7, "minutes": 53, "utc": true}, "type": "temporal", "scale": {"type": "utc", "nice": false, "domain": ["2023-02-20T18:49:00Z", "2023-03-11T02:59:00Z"]}}, "y": {"datum": 0.05665, "type": "quantitative"}}},
            {"data": {"values": [{"s": "C"}]}, "mark": {"type": "text"}, "encoding": {"text": {"field": "s"}, "x": {"datum": {"year": 2023, "month": 2, "date": 25, "hours": 3, "minutes": 9, "utc": true}, "type": "temporal", "scale": {"type": "utc", "nice": false, "domain": ["2023-02-20T18:49:00Z", "2023-03-11T02:59:00Z"]}}, "y": {"datum": 0.05665, "type": "quantitative"}}},
            {"data": {"values": [{"s": "0.040383"}]}, "mark": {"type": "text", "color": "#f23645"}, "encoding": {"text": {"field": "s"}, "x": {"datum": {"year": 2023, "month": 2, "date": 25, "hours": 5, "minutes": 38, "utc": true}, "type": "temporal", "scale": {"type": "utc", "nice": false, "domain": ["2023-02-20T18:49:00Z", "2023-03-11T02:59:00Z"]}}, "y": {"datum": 0.05665, "type": "quantitative"}}},
            {"data": {"values": [{"s": "−0.001607 (−3.83%)"}]}, "mark": {"type": "text", "color": "#f23645"}, "encoding": {"text": {"field": "s"}, "x": {"datum": {"year": 2023, "month": 2, "date": 26, "hours": 0, "minutes": 37, "utc": true}, "type": "temporal", "scale": {"type": "utc", "nice": false, "domain": ["2023-02-20T18:49:00Z", "2023-03-11T02:59:00Z"]}}, "y": {"datum": 0.05665, "type": "quantitative"}}},
            {"data": {"values": [{"s": "e, 2, 0)"}]}, "mark": {"type": "text", "align": "right", "clip": true, "fontSize": 14.5}, "encoding": {"text": {"field": "s"}, "x": {"datum": {"year": 2023, "month": 2, "date": 21, "hours": 6, "minutes": 23, "utc": true}, "type": "temporal", "scale": {"type": "utc", "nice": false, "domain": ["2023-02-20T18:49:00Z", "2023-03-11T02:59:00Z"]}}, "y": {"datum": 0.05417, "type": "quantitative"}}},
            {"data": {"values": [{"s": "0.040704"}]}, "mark": {"type": "text", "color": "#ff6d00"}, "encoding": {"text": {"field": "s"}, "x": {"datum": {"year": 2023, "month": 2, "date": 21, "hours": 9, "minutes": 1, "utc": true}, "type": "temporal", "scale": {"type": "utc", "nice": false, "domain": ["2023-02-20T18:49:00Z", "2023-03-11T02:59:00Z"]}}, "y": {"datum": 0.05417, "type": "quantitative"}}},
            {"data": {"values": [{"s": "0.049082"}]}, "mark": {"type": "text", "color": "#2962ff"}, "encoding": {"text": {"field": "s"}, "x": {"datum": {"year": 2023, "month": 2, "date": 22, "hours": 4, "minutes": 8, "utc": true}, "type": "temporal", "scale": {"type": "utc", "nice": false, "domain": ["2023-02-20T18:49:00Z", "2023-03-11T02:59:00Z"]}}, "y": {"datum": 0.05417, "type": "quantitative"}}},
            {"data": {"values": [{"s": "0.032325"}]}, "mark": {"type": "text", "color": "#2962ff"}, "encoding": {"text": {"field": "s"}, "x": {"datum": {"year": 2023, "month": 2, "date": 22, "hours": 23, "minutes": 24, "utc": true}, "type": "temporal", "scale": {"type": "utc", "nice": false, "domain": ["2023-02-20T18:49:00Z", "2023-03-11T02:59:00Z"]}}, "y": {"datum": 0.05417, "type": "quantitative"}}},
            {"data": {"values": [{"s": "209.877K"}]}, "mark": {"type": "text", "align": "right", "color": "#f23645", "clip": true}, "encoding": {"text": {"field": "s"}, "x": {"datum": {"year": 2023, "month": 2, "date": 21, "hours": 7, "minutes": 29, "utc": true}, "type": "temporal", "scale": {"type": "utc", "nice": false, "domain": ["2023-02-20T18:49:00Z", "2023-03-11T02:59:00Z"]}}, "y": {"datum": 0.05181, "type": "quantitative"}}},
            {"data": {"values": [{}]}, "mark": {"type": "point", "shape": "circle", "filled": true, "fill": "white", "fillOpacity": 1, "stroke": "#f23645", "strokeWidth": 2, "strokeOpacity": 1, "size": 520}, "encoding": {"x": {"datum": {"year": 2023, "month": 3, "date": 10, "hours": 12, "utc": true}, "type": "temporal", "scale": {"type": "utc", "nice": false, "domain": ["2023-02-20T18:49:00Z", "2023-03-11T02:59:00Z"]}}, "y": {"datum": 0.01179, "type": "quantitative"}}},
            {"data": {"values": [{}]}, "mark": {"type": "point", "shape": "M0.2,-0.9 L0.2,0.23 L-0.95,0.23 A0.95,0.95 0 0,1 0.2,-0.9 Z", "filled": true, "color": "#2e86de", "opacity": 1, "size": 400}, "encoding": {"x": {"datum": {"year": 2023, "month": 3, "date": 10, "hours": 12, "utc": true}, "type": "temporal", "scale": {"type": "utc", "nice": false, "domain": ["2023-02-20T18:49:00Z", "2023-03-11T02:59:00Z"]}}, "y": {"datum": 0.01179, "type": "quantitative"}}},
            {"data": {"values": [{}]}, "mark": {"type": "point", "shape": "M0.2,-0.9 H0.6 V-0.65 H0.2 Z M0.2,-0.23 H0.95 V0.23 H0.2 Z M-0.75,0.55 H0.75 L0.55,0.85 H-0.55 Z", "filled": true, "color": "#f7525f", "opacity": 1, "size": 400}, "encoding": {"x": {"datum": {"year": 2023, "month": 3, "date": 10, "hours": 12, "utc": true}, "type": "temporal", "scale": {"type": "utc", "nice": false, "domain": ["2023-02-20T18:49:00Z", "2023-03-11T02:59:00Z"]}}, "y": {"datum": 0.01179, "type": "quantitative"}}},
            {"data": {"values": [{}]}, "mark": {"type": "rule", "color": "#2962ff", "strokeWidth": 2}, "encoding": {"x": {"datum": {"year": 2023, "month": 3, "date": 11, "hours": 2, "minutes": 59, "utc": true}, "type": "temporal", "scale": {"type": "utc", "nice": false, "domain": ["2023-02-20T18:49:00Z", "2023-03-11T02:59:00Z"]}}, "y": {"datum": 0.05024, "type": "quantitative"}, "y2": {"datum": 0.04787}}},
            {"data": {"values": [{}]}, "mark": {"type": "rule", "color": "#ff6d00", "strokeWidth": 2}, "encoding": {"x": {"datum": {"year": 2023, "month": 3, "date": 11, "hours": 2, "minutes": 59, "utc": true}, "type": "temporal", "scale": {"type": "utc", "nice": false, "domain": ["2023-02-20T18:49:00Z", "2023-03-11T02:59:00Z"]}}, "y": {"datum": 0.04394, "type": "quantitative"}, "y2": {"datum": 0.04157}}},
            {"data": {"values": [{}]}, "mark": {"type": "rule", "color": "#ef5350", "strokeWidth": 2}, "encoding": {"x": {"datum": {"year": 2023, "month": 3, "date": 11, "hours": 2, "minutes": 59, "utc": true}, "type": "temporal", "scale": {"type": "utc", "nice": false, "domain": ["2023-02-20T18:49:00Z", "2023-03-11T02:59:00Z"]}}, "y": {"datum": 0.04146, "type": "quantitative"}, "y2": {"datum": 0.03707}}},
            {"data": {"values": [{}]}, "mark": {"type": "rule", "color": "#2962ff", "strokeWidth": 2}, "encoding": {"x": {"datum": {"year": 2023, "month": 3, "date": 11, "hours": 2, "minutes": 59, "utc": true}, "type": "temporal", "scale": {"type": "utc", "nice": false, "domain": ["2023-02-20T18:49:00Z", "2023-03-11T02:59:00Z"]}}, "y": {"datum": 0.03347, "type": "quantitative"}, "y2": {"datum": 0.03111}}},
            {"data": {"values": [{}]}, "mark": {"type": "rule", "color": "#ef5350", "strokeWidth": 2}, "encoding": {"x": {"datum": {"year": 2023, "month": 3, "date": 11, "hours": 2, "minutes": 59, "utc": true}, "type": "temporal", "scale": {"type": "utc", "nice": false, "domain": ["2023-02-20T18:49:00Z", "2023-03-11T02:59:00Z"]}}, "y": {"datum": 0.01232, "type": "quantitative"}, "y2": {"datum": 0.00996}}}
          ]
        }
      ]
    },
    {
      "width": 1599,
      "height": 136,
      "layer": [
        {
          "data": {"values": [{}]},
          "mark": {"type": "rect", "color": "#7e57c2", "opacity": 0.1},
          "encoding": {
            "x": {"datum": {"year": 2023, "month": 2, "date": 20, "hours": 18, "minutes": 49, "utc": true}, "type": "temporal", "scale": {"type": "utc", "nice": false, "domain": ["2023-02-20T18:49:00Z", "2023-03-11T02:59:00Z"]},
              "axis": {"domain": true, "grid": true, "values": ["2023-02-22T00:00:00Z", "2023-02-24T00:00:00Z", "2023-02-25T12:00:00Z", "2023-02-27T00:00:00Z", "2023-03-01T00:00:00Z", "2023-03-03T00:00:00Z", "2023-03-04T12:00:00Z", "2023-03-06T00:00:00Z", "2023-03-08T00:00:00Z", "2023-03-10T00:00:00Z"]}},
            "x2": {"datum": {"year": 2023, "month": 3, "date": 11, "hours": 2, "minutes": 59, "utc": true}},
            "y": {"datum": 70, "type": "quantitative", "scale": {"domain": [23.5, 99.4], "nice": false, "zero": false}, "axis": {"orient": "right", "domain": true, "grid": true, "values": [25, 50, 75]}},
            "y2": {"datum": 30}
          }
        },
        {"data": {"values": [{}]}, "mark": {"type": "rule", "color": "#787b86", "strokeDash": [6, 5]}, "encoding": {"x": {"datum": {"year": 2023, "month": 2, "date": 20, "hours": 18, "minutes": 49, "utc": true}, "type": "temporal", "scale": {"type": "utc", "nice": false, "domain": ["2023-02-20T18:49:00Z", "2023-03-11T02:59:00Z"]}}, "x2": {"datum": {"year": 2023, "month": 3, "date": 11, "hours": 2, "minutes": 59, "utc": true}}, "y": {"datum": 70, "type": "quantitative"}}},
        {"data": {"values": [{}]}, "mark": {"type": "rule", "color": "#787b86", "opacity": 0.6, "strokeDash": [6, 5]}, "encoding": {"x": {"datum": {"year": 2023, "month": 2, "date": 20, "hours": 18, "minutes": 49, "utc": true}, "type": "temporal", "scale": {"type": "utc", "nice": false, "domain": ["2023-02-20T18:49:00Z", "2023-03-11T02:59:00Z"]}}, "x2": {"datum": {"year": 2023, "month": 3, "date": 11, "hours": 2, "minutes": 59, "utc": true}}, "y": {"datum": 50, "type": "quantitative"}}},
        {"data": {"values": [{}]}, "mark": {"type": "rule", "color": "#787b86", "strokeDash": [6, 5]}, "encoding": {"x": {"datum": {"year": 2023, "month": 2, "date": 20, "hours": 18, "minutes": 49, "utc": true}, "type": "temporal", "scale": {"type": "utc", "nice": false, "domain": ["2023-02-20T18:49:00Z", "2023-03-11T02:59:00Z"]}}, "x2": {"datum": {"year": 2023, "month": 3, "date": 11, "hours": 2, "minutes": 59, "utc": true}}, "y": {"datum": 30, "type": "quantitative"}}},
        {"mark": {"type": "line", "color": "#7e57c2", "strokeWidth": 1.2, "clip": true}, "encoding": {"x": {"field": "t", "type": "temporal", "scale": {"type": "utc", "nice": false, "domain": ["2023-02-20T18:49:00Z", "2023-03-11T02:59:00Z"]}}, "y": {"field": "rsi", "type": "quantitative"}}},
        {"mark": {"type": "line", "color": "#ffeb3b", "strokeWidth": 1.2, "clip": true}, "encoding": {"x": {"field": "t", "type": "temporal", "scale": {"type": "utc", "nice": false, "domain": ["2023-02-20T18:49:00Z", "2023-03-11T02:59:00Z"]}}, "y": {"field": "rsi_ma", "type": "quantitative"}}},
        {"data": {"values": [{"s": "e, SMA, 14, 2)"}]}, "mark": {"type": "text", "align": "right", "clip": true, "fontSize": 14.5}, "encoding": {"text": {"field": "s"}, "x": {"datum": {"year": 2023, "month": 2, "date": 21, "hours": 19, "minutes": 19, "utc": true}, "type": "temporal", "scale": {"type": "utc", "nice": false, "domain": ["2023-02-20T18:49:00Z", "2023-03-11T02:59:00Z"]}}, "y": {"datum": 87.7, "type": "quantitative"}}},
        {"data": {"values": [{"s": "52.00"}]}, "mark": {"type": "text", "color": "#7e57c2"}, "encoding": {"text": {"field": "s"}, "x": {"datum": {"year": 2023, "month": 2, "date": 21, "hours": 22, "minutes": 4, "utc": true}, "type": "temporal", "scale": {"type": "utc", "nice": false, "domain": ["2023-02-20T18:49:00Z", "2023-03-11T02:59:00Z"]}}, "y": {"datum": 87.7, "type": "quantitative"}}},
        {"data": {"values": [{"s": "50.92"}]}, "mark": {"type": "text", "color": "#ffeb3b"}, "encoding": {"text": {"field": "s"}, "x": {"datum": {"year": 2023, "month": 2, "date": 22, "hours": 10, "minutes": 44, "utc": true}, "type": "temporal", "scale": {"type": "utc", "nice": false, "domain": ["2023-02-20T18:49:00Z", "2023-03-11T02:59:00Z"]}}, "y": {"datum": 87.7, "type": "quantitative"}}},
        {"data": {"values": [{"s": "∅"}]}, "mark": {"type": "text"}, "encoding": {"text": {"field": "s"}, "x": {"datum": {"year": 2023, "month": 2, "date": 22, "hours": 23, "minutes": 40, "utc": true}, "type": "temporal", "scale": {"type": "utc", "nice": false, "domain": ["2023-02-20T18:49:00Z", "2023-03-11T02:59:00Z"]}}, "y": {"datum": 87.7, "type": "quantitative"}}},
        {"data": {"values": [{"s": "∅"}]}, "mark": {"type": "text"}, "encoding": {"text": {"field": "s"}, "x": {"datum": {"year": 2023, "month": 2, "date": 23, "hours": 4, "minutes": 54, "utc": true}, "type": "temporal", "scale": {"type": "utc", "nice": false, "domain": ["2023-02-20T18:49:00Z", "2023-03-11T02:59:00Z"]}}, "y": {"datum": 87.7, "type": "quantitative"}}},
        {"data": {"values": [{}]}, "mark": {"type": "rule", "color": "#7e57c2", "strokeWidth": 2}, "encoding": {"x": {"datum": {"year": 2023, "month": 3, "date": 11, "hours": 2, "minutes": 59, "utc": true}, "type": "temporal", "scale": {"type": "utc", "nice": false, "domain": ["2023-02-20T18:49:00Z", "2023-03-11T02:59:00Z"]}}, "y": {"datum": 58.1, "type": "quantitative"}, "y2": {"datum": 46.4}}},
        {"data": {"values": [{}]}, "mark": {"type": "rule", "color": "#ffeb3b", "strokeWidth": 2}, "encoding": {"x": {"datum": {"year": 2023, "month": 3, "date": 11, "hours": 2, "minutes": 59, "utc": true}, "type": "temporal", "scale": {"type": "utc", "nice": false, "domain": ["2023-02-20T18:49:00Z", "2023-03-11T02:59:00Z"]}}, "y": {"datum": 45.8, "type": "quantitative"}, "y2": {"datum": 34.1}}}
      ]
    },
    {
      "width": 1599,
      "height": 143,
      "layer": [
        {
          "mark": {"type": "bar", "width": 13, "orient": "vertical", "clip": true},
          "encoding": {
            "x": {"field": "t", "type": "temporal", "scale": {"type": "utc", "nice": false, "domain": ["2023-02-20T18:49:00Z", "2023-03-11T02:59:00Z"]},
              "axis": {"domain": true, "grid": true, "labels": true, "labelColor": "#131722", "labelFont": "Noto Sans", "labelFontSize": 14, "labelPadding": 11, "labelOverlap": false, "labelFlush": false,
                "values": ["2023-02-22T00:00:00Z", "2023-02-24T00:00:00Z", "2023-02-25T12:00:00Z", "2023-02-27T00:00:00Z", "2023-03-01T00:00:00Z", "2023-03-03T00:00:00Z", "2023-03-04T12:00:00Z", "2023-03-06T00:00:00Z", "2023-03-08T00:00:00Z", "2023-03-10T00:00:00Z"],
                "labelExpr": "utchours(datum.value) == 12 ? '12:00' : utcdate(datum.value) == 1 ? 'Mar' : '' + utcdate(datum.value)",
                "labelFontWeight": {"condition": {"test": "utcdate(datum.value) == 1", "value": "bold"}, "value": "normal"}}},
            "y": {"field": "hist", "type": "quantitative", "stack": null, "scale": {"domain": [-0.002558, 0.007144], "nice": false, "zero": false}, "axis": {"orient": "right", "domain": true, "grid": true, "values": [0.005]}},
            "color": {"field": "hist_state", "type": "nominal", "legend": null, "scale": {"domain": ["up_rise", "up_fall", "down_fall", "down_rise"], "range": ["#26a69a", "#b2dfdb", "#ff5252", "#ffcdd2"]}}
          }
        },
        {"data": {"values": [{}]}, "mark": {"type": "rule", "color": "#787b86", "opacity": 0.6, "strokeDash": [6, 5]}, "encoding": {"x": {"datum": {"year": 2023, "month": 2, "date": 20, "hours": 18, "minutes": 49, "utc": true}, "type": "temporal", "scale": {"type": "utc", "nice": false, "domain": ["2023-02-20T18:49:00Z", "2023-03-11T02:59:00Z"]}}, "x2": {"datum": {"year": 2023, "month": 3, "date": 11, "hours": 2, "minutes": 59, "utc": true}}, "y": {"datum": 0, "type": "quantitative"}}},
        {"mark": {"type": "line", "color": "#2962ff", "strokeWidth": 1.2, "clip": true}, "encoding": {"x": {"field": "t", "type": "temporal", "scale": {"type": "utc", "nice": false, "domain": ["2023-02-20T18:49:00Z", "2023-03-11T02:59:00Z"]}}, "y": {"field": "macd", "type": "quantitative"}}},
        {"mark": {"type": "line", "color": "#ff6d00", "strokeWidth": 1.2, "clip": true}, "encoding": {"x": {"field": "t", "type": "temporal", "scale": {"type": "utc", "nice": false, "domain": ["2023-02-20T18:49:00Z", "2023-03-11T02:59:00Z"]}}, "y": {"field": "signal", "type": "quantitative"}}},
        {"data": {"values": [{"s": "6, close, 9, EMA, EMA)"}]}, "mark": {"type": "text", "align": "right", "clip": true, "fontSize": 14.5}, "encoding": {"text": {"field": "s"}, "x": {"datum": {"year": 2023, "month": 2, "date": 22, "hours": 10, "minutes": 44, "utc": true}, "type": "temporal", "scale": {"type": "utc", "nice": false, "domain": ["2023-02-20T18:49:00Z", "2023-03-11T02:59:00Z"]}}, "y": {"datum": 0.00572, "type": "quantitative"}}},
        {"data": {"values": [{"s": "−0.000181"}]}, "mark": {"type": "text", "color": "#ff5252"}, "encoding": {"text": {"field": "s"}, "x": {"datum": {"year": 2023, "month": 2, "date": 22, "hours": 13, "minutes": 37, "utc": true}, "type": "temporal", "scale": {"type": "utc", "nice": false, "domain": ["2023-02-20T18:49:00Z", "2023-03-11T02:59:00Z"]}}, "y": {"datum": 0.00572, "type": "quantitative"}}},
        {"data": {"values": [{"s": "0.000834"}]}, "mark": {"type": "text", "color": "#2962ff"}, "encoding": {"text": {"field": "s"}, "x": {"datum": {"year": 2023, "month": 2, "date": 23, "hours": 10, "minutes": 57, "utc": true}, "type": "temporal", "scale": {"type": "utc", "nice": false, "domain": ["2023-02-20T18:49:00Z", "2023-03-11T02:59:00Z"]}}, "y": {"datum": 0.00572, "type": "quantitative"}}},
        {"data": {"values": [{"s": "0.001015"}]}, "mark": {"type": "text", "color": "#ff6d00"}, "encoding": {"text": {"field": "s"}, "x": {"datum": {"year": 2023, "month": 2, "date": 24, "hours": 5, "minutes": 57, "utc": true}, "type": "temporal", "scale": {"type": "utc", "nice": false, "domain": ["2023-02-20T18:49:00Z", "2023-03-11T02:59:00Z"]}}, "y": {"datum": 0.00572, "type": "quantitative"}}},
        {"data": {"values": [{}]}, "mark": {"type": "rule", "color": "#ff6d00", "strokeWidth": 2}, "encoding": {"x": {"datum": {"year": 2023, "month": 3, "date": 11, "hours": 2, "minutes": 59, "utc": true}, "type": "temporal", "scale": {"type": "utc", "nice": false, "domain": ["2023-02-20T18:49:00Z", "2023-03-11T02:59:00Z"]}}, "y": {"datum": 0.003413, "type": "quantitative"}, "y2": {"datum": 0.001989}}},
        {"data": {"values": [{}]}, "mark": {"type": "rule", "color": "#2962ff", "strokeWidth": 2}, "encoding": {"x": {"datum": {"year": 2023, "month": 3, "date": 11, "hours": 2, "minutes": 59, "utc": true}, "type": "temporal", "scale": {"type": "utc", "nice": false, "domain": ["2023-02-20T18:49:00Z", "2023-03-11T02:59:00Z"]}}, "y": {"datum": 0.001921, "type": "quantitative"}, "y2": {"datum": 0.000497}}},
        {"data": {"values": [{}]}, "mark": {"type": "rule", "color": "#ff5252", "strokeWidth": 2}, "encoding": {"x": {"datum": {"year": 2023, "month": 3, "date": 11, "hours": 2, "minutes": 59, "utc": true}, "type": "temporal", "scale": {"type": "utc", "nice": false, "domain": ["2023-02-20T18:49:00Z", "2023-03-11T02:59:00Z"]}}, "y": {"datum": 0.000429, "type": "quantitative"}, "y2": {"datum": -0.000927}}}
      ]
    },
    {
      "width": 1599,
      "height": 78,
      "layer": [
        {
          "data": {"values": [{}]},
          "mark": {"type": "rule", "color": "#f0f3fa", "strokeWidth": 3},
          "encoding": {"y": {"datum": 0.577, "type": "quantitative", "scale": {"domain": [0, 1]}, "axis": null}}
        },
        {
          "data": {"values": [{"s": "view"}]},
          "mark": {"type": "text", "align": "right", "clip": true, "fontSize": 13},
          "encoding": {
            "text": {"field": "s"},
            "x": {"datum": {"year": 2023, "month": 2, "date": 21, "hours": 2, "minutes": 15, "utc": true}, "type": "temporal", "scale": {"type": "utc", "nice": false, "domain": ["2023-02-20T18:49:00Z", "2023-03-11T02:59:00Z"]}, "axis": null},
            "y": {"datum": 0.295, "type": "quantitative"}
          }
        }
      ]
    }
  ]
}
